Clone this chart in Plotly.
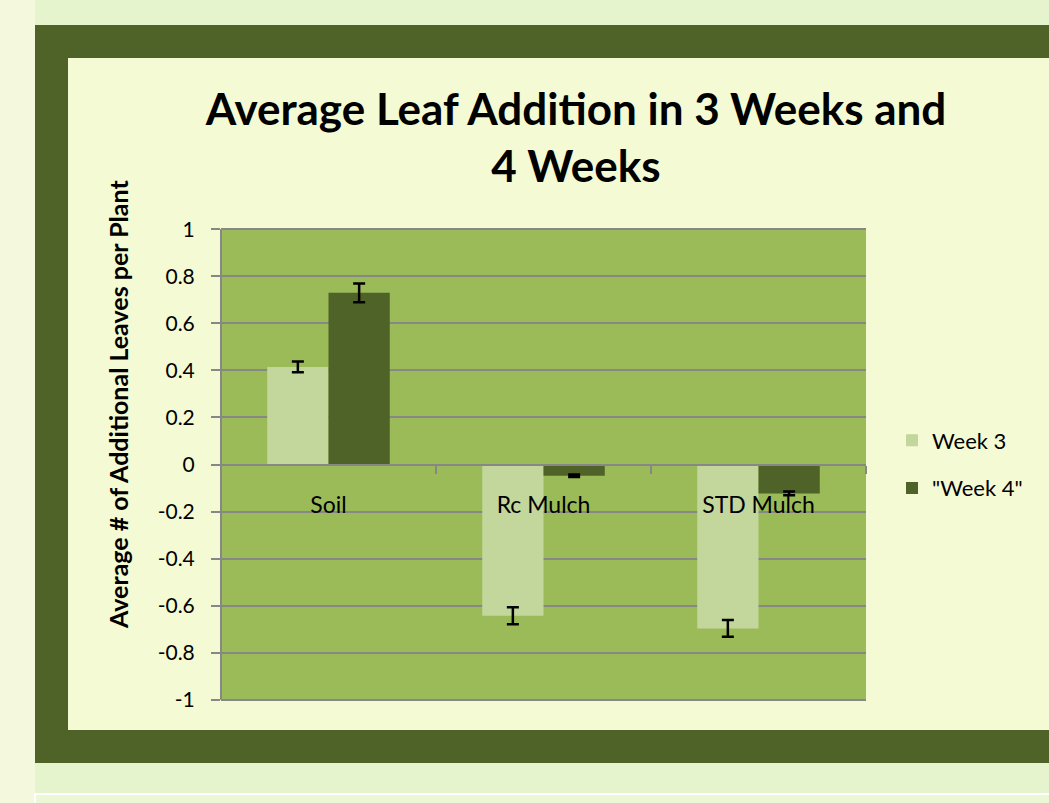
import plotly.graph_objects as go

categories = ["Soil", "Rc Mulch", "STD Mulch"]
week3 = [0.415, -0.643, -0.697]
week3_err = [0.023, 0.036, 0.036]
week4 = [0.730, -0.048, -0.123]
week4_err = [0.040, 0.005, 0.008]
series_names = ["Week 3", "\"Week 4\""]
y_ticks = [1, 0.8, 0.6, 0.4, 0.2, 0, -0.2, -0.4, -0.6, -0.8, -1]
y_tick_labels = ["1", "0.8", "0.6", "0.4", "0.2", "0", "-0.2", "-0.4", "-0.6", "-0.8", "-1"]
y_title = "Average # of Additional Leaves per Plant"

FONT = "Lato"
FRAME = "#4F6228"
PANEL = "#F4FAD3"
PLOT = "#9BBB59"
LIGHT = "#C3D69B"
DARK = "#4F6228"
GRID = "#878787"

fig = go.Figure()
fig.add_trace(go.Bar(
    x=categories, y=week3, name=series_names[0], legendgroup="a",
    marker=dict(color=LIGHT, line=dict(width=0)),
    error_y=dict(type="data", array=week3_err, color="black", thickness=2.5, width=6),
))
fig.add_trace(go.Bar(
    x=categories, y=week4, name=series_names[1], legendgroup="b",
    marker=dict(color=DARK, line=dict(width=0)),
    error_y=dict(type="data", array=week4_err, color="black", thickness=2.5, width=6),
))

W, H = 1049, 803
L, R, T, B = 221, 866, 227, 702


def px(x):
    return (x - L) / (R - L)


def py(y):
    return (B - y) / (B - T)


shapes = [
    # left pale strip of slide background
    dict(type="rect", xref="paper", yref="paper", x0=px(-10), x1=px(35), y0=py(900), y1=py(-10),
         fillcolor="#F4F9DE", line=dict(width=0), layer="below"),
    # outer dark frame
    dict(type="rect", xref="paper", yref="paper", x0=px(35), x1=px(1070), y0=py(763), y1=py(25),
         fillcolor=FRAME, line=dict(width=0), layer="below"),
    # inner pale panel
    dict(type="rect", xref="paper", yref="paper", x0=px(68), x1=px(1070), y0=py(730), y1=py(58),
         fillcolor=PANEL, line=dict(width=0), layer="below"),
    # plot area fill, spanning the value axis from its lowest to highest tick
    dict(type="rect", xref="paper", yref="y", x0=0, x1=1, y0=min(y_ticks), y1=max(y_ticks),
         fillcolor=PLOT, line=dict(width=0), layer="below"),
    # lower slide box outline
    dict(type="rect", xref="paper", yref="paper", x0=px(35), x1=px(1070), y0=py(830), y1=py(794),
         fillcolor="rgba(240,248,220,0.6)", line=dict(width=2, color="white"), layer="below"),
]

fig.update_layout(
    width=W, height=H,
    margin=dict(l=L, r=W - R, t=T, b=H - B, autoexpand=False),
    paper_bgcolor="#E6F4CD",
    plot_bgcolor="rgba(0,0,0,0)",
    barmode="group", bargap=0.43, bargroupgap=0,
    shapes=shapes,
    font=dict(family=FONT, color="black", size=22),
    title=dict(
        text="<b>Average Leaf Addition in 3 Weeks and<br>4 Weeks</b>",
        x=px(576), xref="paper", xanchor="center",
        y=1 - 125 / H, yref="container", yanchor="middle",
        font=dict(family=FONT, size=44, color="black"),
    ),
    legend=dict(
        x=px(892), y=0.5, xanchor="left", yanchor="middle",
        bgcolor="rgba(0,0,0,0)", font=dict(family=FONT, size=22),
        tracegroupgap=16, traceorder="grouped",
    ),
    xaxis=dict(
        anchor="free", position=0.5,
        showline=True, linecolor=GRID, linewidth=2,
        ticks="outside", tickson="boundaries", ticklen=8, tickcolor=GRID, tickwidth=2,
        showgrid=False, zeroline=False,
        tickfont=dict(family=FONT, size=23),
        ticklabelstandoff=20,
    ),
    yaxis=dict(
        range=[-1.01, 1.01], tickvals=y_ticks, ticktext=y_tick_labels,
        showline=False,
        ticks="outside", ticklen=9, tickcolor=GRID, tickwidth=2,
        showgrid=True, gridcolor=GRID, gridwidth=2,
        zeroline=True, zerolinecolor=GRID, zerolinewidth=2,
        tickfont=dict(family=FONT, size=21),
        ticklabelstandoff=12,
        automargin=False,
    ),
    annotations=[dict(
        text="<b>" + y_title + "</b>", xref="paper", yref="paper",
        x=px(118), y=py(404), xanchor="center", yanchor="middle",
        textangle=-90, showarrow=False,
        font=dict(family=FONT, size=25, color="black"),
    )],
)

# vertical value-axis line between the lowest and highest ticks
fig.add_shape(type="line", xref="paper", yref="y", x0=0, x1=0,
              y0=min(y_ticks), y1=max(y_ticks), line=dict(color=GRID, width=2), layer="above")

fig.write_html("out.html", config={"displayModeBar": False})

# remove the default 8px page margin so the figure sits at the window origin
with open("out.html", "r", encoding="utf-8") as f:
    html = f.read()
html = html.replace("<head>", "<head><style>html,body{margin:0;padding:0;overflow:hidden;}</style>", 1)
with open("out.html", "w", encoding="utf-8") as f:
    f.write(html)
